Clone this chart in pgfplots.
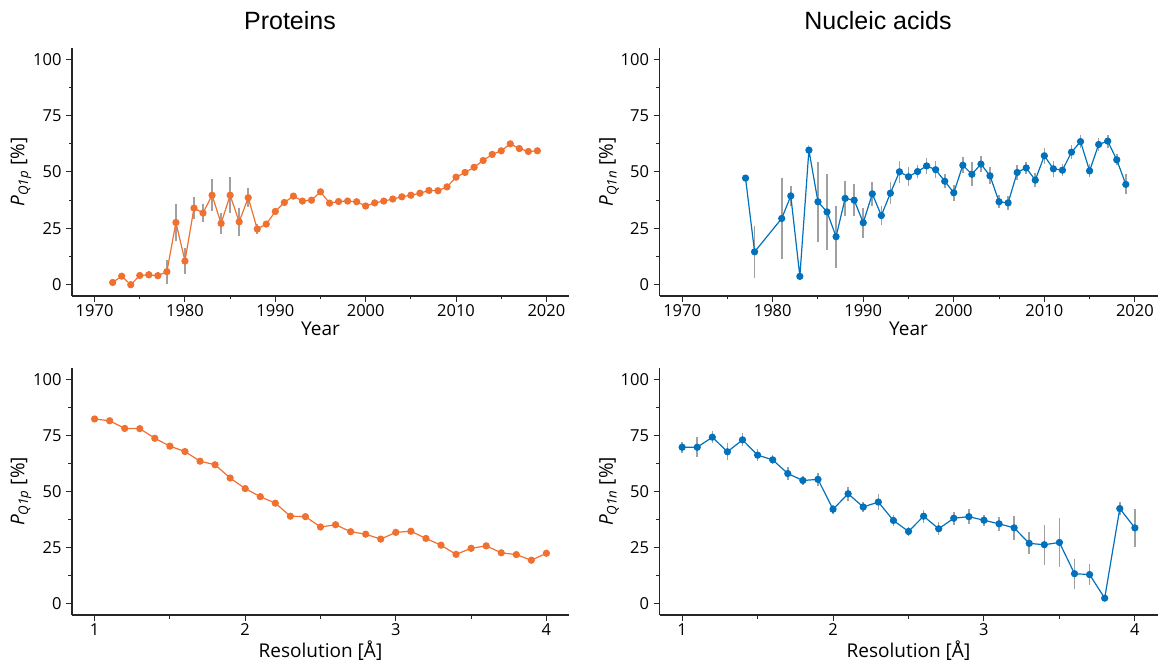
\documentclass[border=0pt]{standalone}
\usepackage{fontspec}
\setmainfont{Open Sans}
\newfontfamily\titlefont{Liberation Sans}
\usepackage{pgfplots}
\usepackage{pgfplotstable}
\pgfplotsset{compat=1.18}
\definecolor{porange}{RGB}{240,112,48}
\definecolor{nblue}{RGB}{0,114,189}
\definecolor{ebar}{RGB}{160,160,160}

\pgfplotstableread{
x y e
1972 1.0 0.5
1973 3.8 0.5
1974 0.0 0.3
1975 4.1 0.8
1976 4.4 1.5
1977 4.0 1.5
1978 5.8 5.3
1979 27.6 8.0
1980 10.5 5.9
1981 34.0 4.8
1982 31.8 4.0
1983 39.7 7.2
1984 27.2 4.5
1985 39.7 8.0
1986 27.9 6.3
1987 38.6 4.2
1988 24.7 2.4
1989 26.9 1.5
1990 32.5 1.2
1991 36.5 1.0
1992 39.3 1.0
1993 37.1 0.8
1994 37.5 0.8
1995 41.2 0.8
1996 36.2 0.6
1997 36.9 0.6
1998 37.1 0.6
1999 36.8 0.6
2000 34.9 0.6
2001 36.3 0.6
2002 37.1 0.6
2003 38.0 0.6
2004 39.0 0.6
2005 39.7 0.6
2006 40.6 0.6
2007 41.8 0.6
2008 41.7 0.6
2009 43.4 0.6
2010 47.7 0.6
2011 49.8 0.6
2012 52.1 0.6
2013 55.1 0.6
2014 57.8 0.6
2015 59.4 0.6
2016 62.5 0.6
2017 60.4 0.6
2018 59.1 0.6
2019 59.4 0.6
}\protyear

\pgfplotstableread{
x y e
1977 47.3 0
1978 14.6 11.5
1981 29.4 17.9
1982 39.4 4.3
1983 3.7 0
1984 59.7 0
1985 36.8 17.7
1986 32.3 16.8
1987 21.3 13.8
1988 38.3 7.9
1989 37.5 7.0
1990 27.5 6.6
1991 40.3 5.2
1992 30.7 4.3
1993 40.6 4.9
1994 50.1 4.9
1995 47.9 4.3
1996 50.2 3.0
1997 52.7 3.5
1998 51.0 3.7
1999 45.9 3.2
2000 40.8 3.5
2001 53.0 3.5
2002 49.0 5.4
2003 53.5 3.5
2004 48.3 3.7
2005 36.8 2.9
2006 36.3 3.0
2007 49.8 3.2
2008 51.8 2.7
2009 46.4 3.2
2010 57.2 3.5
2011 51.4 3.4
2012 50.8 2.7
2013 58.8 3.2
2014 63.5 2.9
2015 50.5 2.9
2016 62.2 3.0
2017 63.7 2.9
2018 55.4 2.4
2019 44.5 4.4
}\nucyear

\pgfplotstableread{
x y
1.0 82.3
1.1 81.5
1.2 78.1
1.3 78.0
1.4 73.7
1.5 70.2
1.6 67.8
1.7 63.5
1.8 61.9
1.9 56.0
2.0 51.3
2.1 47.7
2.2 44.8
2.3 39.0
2.4 38.8
2.5 34.2
2.6 35.2
2.7 32.1
2.8 31.0
2.9 28.8
3.0 31.8
3.1 32.3
3.2 29.1
3.3 26.1
3.4 22.0
3.5 24.7
3.6 25.8
3.7 22.7
3.8 21.9
3.9 19.4
4.0 22.5
}\protres

\pgfplotstableread{
x y e
1.0 69.7 2.5
1.1 69.7 4.4
1.2 74.2 2.6
1.3 67.7 3.7
1.4 73.0 2.9
1.5 66.2 2.7
1.6 64.1 2.0
1.7 58.0 2.7
1.8 54.9 2.2
1.9 55.4 2.8
2.0 42.1 2.1
2.1 49.0 3.1
2.2 43.1 2.2
2.3 45.3 3.6
2.4 37.1 2.3
2.5 32.2 2.2
2.6 39.0 2.9
2.7 33.4 2.9
2.8 38.1 2.8
2.9 38.8 3.2
3.0 37.2 2.5
3.1 35.6 3.2
3.2 33.8 5.2
3.3 26.9 4.9
3.4 26.3 9.0
3.5 27.3 10.9
3.6 13.4 6.7
3.7 13.0 4.5
3.8 2.5 0
3.9 42.4 2.9
4.0 33.8 8.3
}\nucres

\pgfplotsset{
  myaxis/.style={
    scale only axis,
    anchor=south west,
    axis x line*=bottom,
    axis y line*=left,
    axis line style={-, line width=1.2pt, black!85},
    tick align=outside,
    major tick length=6pt,
    minor tick length=3.5pt,
    every tick/.style={black!85, line width=1.0pt},
    minor tick num=1,
    ymin=-5, ymax=105,
    ytick={0,25,50,75,100},
    /pgf/number format/assume math mode=true,
    tick label style={font=\fontsize{16.5}{18}\selectfont},
    label style={font=\fontsize{19}{22}\selectfont},
    ylabel style={yshift=-5pt},
    xlabel style={yshift=2pt},
    xticklabel style={yshift=1pt},
    yticklabel style={xshift=-1pt},
    /pgf/number format/1000 sep={},
    clip=false,
  },
  yearaxis/.style={myaxis, xmin=1967.5, xmax=2022.5, xtick={1970,1980,...,2020}, xlabel={Year}},
  resaxis/.style={myaxis, xmin=0.85, xmax=4.15, xtick={1,2,3,4}, xlabel={Resolution [Å]}},
  ebars/.style={forget plot, draw=none, mark=none,
    error bars/.cd, y dir=both, y explicit, error mark=none,
    error bar style={draw=ebar, line width=1.6pt}},
  dataline/.style={#1, line width=1.2pt, mark=*, mark size=3pt, mark options={solid, fill=#1, draw=#1}},
}

\begin{document}
\begin{tikzpicture}[x=1pt,y=1pt]
\path[use as bounding box] (0,0) rectangle (1169,667);

\node[anchor=base, font=\titlefont\fontsize{25}{30}\selectfont] at (290,637) {Proteins};
\node[anchor=base, font=\titlefont\fontsize{25}{30}\selectfont] at (878,637) {Nucleic acids};

\begin{axis}[yearaxis, at={(72pt,371pt)}, width=497pt, height=248pt,
  ylabel={{\itshape P}\textsubscript{\itshape Q1p} [\%]}]
\addplot[ebars] table[x=x, y=y, y error=e] {\protyear};
\addplot[dataline=porange] table[x=x, y=y] {\protyear};
\end{axis}

\begin{axis}[yearaxis, at={(659.5pt,371pt)}, width=498pt, height=248pt,
  ylabel={{\itshape P}\textsubscript{\itshape Q1n} [\%]}]
\addplot[ebars] table[x=x, y=y, y error=e] {\nucyear};
\addplot[dataline=nblue] table[x=x, y=y] {\nucyear};
\end{axis}

\begin{axis}[resaxis, at={(72pt,52pt)}, width=497pt, height=247pt,
  ylabel={{\itshape P}\textsubscript{\itshape Q1p} [\%]}]
\addplot[dataline=porange] table[x=x, y=y] {\protres};
\end{axis}

\begin{axis}[resaxis, at={(659.5pt,52pt)}, width=498pt, height=247pt,
  ylabel={{\itshape P}\textsubscript{\itshape Q1n} [\%]}]
\addplot[ebars] table[x=x, y=y, y error=e] {\nucres};
\addplot[dataline=nblue] table[x=x, y=y] {\nucres};
\end{axis}
\end{tikzpicture}
\end{document}
